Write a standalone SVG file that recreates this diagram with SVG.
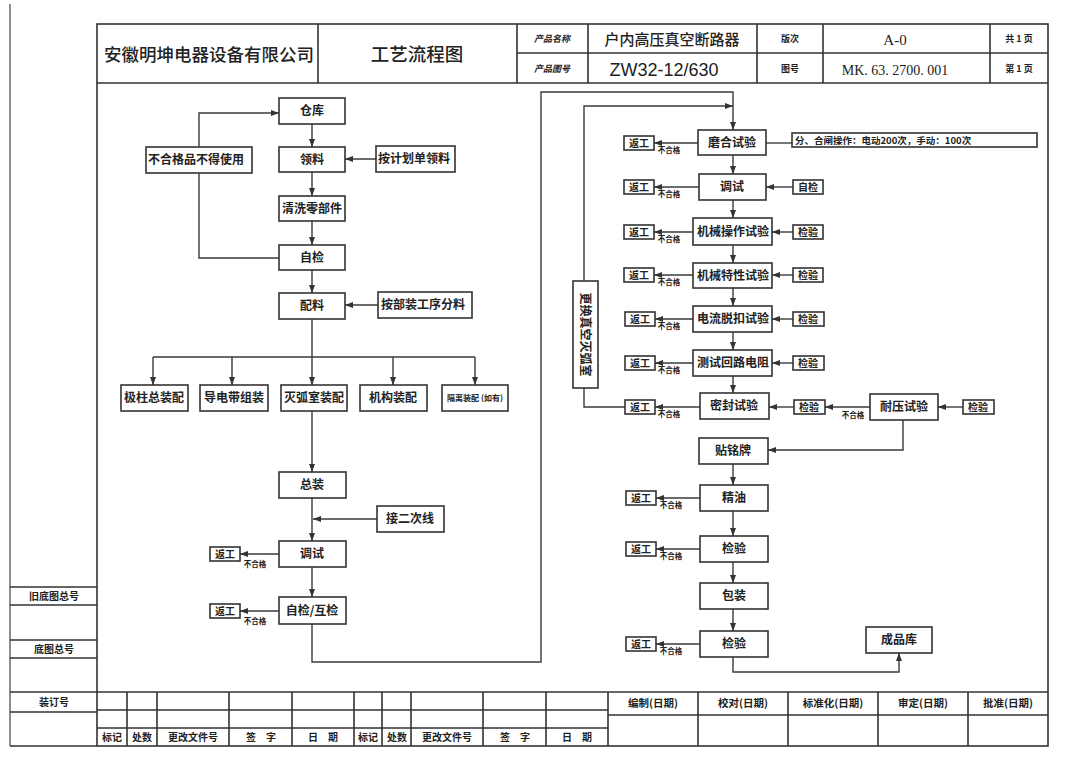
<svg xmlns="http://www.w3.org/2000/svg" width="1068" height="762" viewBox="0 0 1068 762">
<defs>
<marker id="ah" markerUnits="userSpaceOnUse" markerWidth="8" markerHeight="6" refX="8" refY="3" orient="auto">
<path d="M0,0 L8,3 L0,6 z" fill="#333"/>
</marker>
<style>
.frame{fill:none;stroke:#333;stroke-width:1.6}
.thin{fill:none;stroke:#444;stroke-width:1.2}
.box{fill:#fff;stroke:#333;stroke-width:1.6}
.ln{fill:none;stroke:#3a3a3a;stroke-width:1.4}
.ar{fill:none;stroke:#3a3a3a;stroke-width:1.4;marker-end:url(#ah)}
text{font-family:"Noto Sans CJK SC","Noto Sans CJK JP",sans-serif;fill:#222}
.t{font-size:12px;font-weight:700;text-anchor:middle}
.ts{font-size:10px;font-weight:700;text-anchor:middle}
.tn{font-size:7.5px;font-weight:700;text-anchor:middle}
.th{font-size:9px;font-weight:700;font-style:italic;text-anchor:middle}
.tb{font-size:10.5px;font-weight:700;text-anchor:middle}
</style>
</defs>
<rect width="1068" height="762" fill="#fff"/>

<g id="sheet-frame">
<path class="thin" d="M10,4 V746" stroke="#777"/>
<rect class="frame" x="97" y="24" width="951" height="722"/>
<path class="frame" d="M97,83 H1048 M318,24 V83 M517,24 V83 M588,24 V83 M757,24 V83 M823,24 V83 M990,24 V83 M517,53 H1048"/>
<text x="209" y="61" style="font-size:17.5px;font-weight:500;text-anchor:middle">安徽明坤电器设备有限公司</text>
<text x="417" y="61" style="font-size:18.5px;font-weight:500;text-anchor:middle">工艺流程图</text>
<text class="th" x="552" y="42">产品名称</text>
<text class="th" x="552" y="72">产品图号</text>
<text x="672" y="45" style="font-size:15px;font-weight:500;text-anchor:middle">户内高压真空断路器</text>
<text x="664" y="76" style="font-family:'Liberation Sans',Arial,sans-serif;font-size:18px;text-anchor:middle">ZW32-12/630</text>
<text class="th" x="790" y="42" style="font-style:normal">版次</text>
<text class="th" x="790" y="72" style="font-style:normal">图号</text>
<text x="895" y="45" style="font-family:'Liberation Serif',serif;font-size:15px;text-anchor:middle">A-0</text>
<text x="895" y="75" style="font-family:'Liberation Serif',serif;font-size:14px;text-anchor:middle">MK. 63. 2700. 001</text>
<text class="th" x="1019" y="42" style="font-style:normal">共 1 页</text>
<text class="th" x="1019" y="72" style="font-style:normal">第 1 页</text>
<path class="frame" d="M10,587 H97 M10,605 H97 M10,640 H97 M10,658 H97 M10,692 H97 M10,712 H97 M10,746 H97"/>
<text class="ts" x="54" y="600">旧底图总号</text>
<text class="ts" x="54" y="653">底图总号</text>
<text class="ts" x="54" y="706">装订号</text>
<path class="frame" d="M97,692 H1048 M97,710 H608 M97,728 H608 M608,715 H1048 M127,692 V746 M157,692 V746 M229,692 V746 M292,692 V746 M354,692 V746 M382,692 V746 M411,692 V746 M483,692 V746 M546,692 V746 M608,692 V746 M698,692 V746 M788,692 V746 M878,692 V746 M968,692 V746"/>
<text class="ts" x="112" y="741">标记</text>
<text class="ts" x="142" y="741">处数</text>
<text class="ts" x="193" y="741">更改文件号</text>
<text class="ts" x="261" y="741">签　字</text>
<text class="ts" x="323" y="741">日　期</text>
<text class="ts" x="368" y="741">标记</text>
<text class="ts" x="397" y="741">处数</text>
<text class="ts" x="447" y="741">更改文件号</text>
<text class="ts" x="515" y="741">签　字</text>
<text class="ts" x="577" y="741">日　期</text>
<text class="tb" x="653" y="707">编制(日期)</text>
<text class="tb" x="743" y="707">校对(日期)</text>
<text class="tb" x="833" y="707">标准化(日期)</text>
<text class="tb" x="923" y="707">审定(日期)</text>
<text class="tb" x="1008" y="707">批准(日期)</text>
</g>

<g id="connectors">
<path class="ar" d="M312,124 V147"/>
<path class="ar" d="M312,172 V196"/>
<path class="ar" d="M312,221 V245"/>
<path class="ar" d="M312,270 V293"/>
<path class="ln" d="M312,319 V357 M153,357 H475"/>
<path class="ar" d="M153,357 V385"/>
<path class="ar" d="M232,357 V385"/>
<path class="ar" d="M312,357 V385"/>
<path class="ar" d="M393,357 V385"/>
<path class="ar" d="M475,357 V385"/>
<path class="ar" d="M455,159 H345"/>
<path class="ar" d="M378,305 H345"/>
<path class="ln" d="M279,258 H199 V173"/>
<path class="ar" d="M199,147 V113 H279"/>
<path class="ar" d="M312,411 V472"/>
<path class="ar" d="M312,498 V541"/>
<path class="ar" d="M377,519 H313"/>
<path class="ar" d="M312,567 V597"/>
<path class="ar" d="M279,554 H240"/>
<path class="ar" d="M279,611 H240"/>
<path class="ar" d="M312,624 V662 H541 V92 H733 V130"/>
<path class="ar" d="M584,281 V106 H733"/>
<path class="ln" d="M766,143 H792"/>
<path class="ar" d="M698,143 H654"/>
<path class="ar" d="M733,155 V174"/>
<path class="ar" d="M793,187 H766"/>
<path class="ar" d="M699,187 H654"/>
<path class="ar" d="M733,200 V218"/>
<path class="ar" d="M793,232 H772"/>
<path class="ar" d="M693,232 H654"/>
<path class="ar" d="M733,245 V263"/>
<path class="ar" d="M793,275 H772"/>
<path class="ar" d="M693,275 H654"/>
<path class="ar" d="M733,288 V306"/>
<path class="ar" d="M793,319 H772"/>
<path class="ar" d="M693,319 H655"/>
<path class="ar" d="M733,332 V350"/>
<path class="ar" d="M793,363 H772"/>
<path class="ar" d="M693,363 H655"/>
<path class="ar" d="M733,376 V393"/>
<path class="ar" d="M794,407 H769"/>
<path class="ar" d="M700,407 H655"/>
<path class="ar" d="M870,407 H825"/>
<path class="ar" d="M963,407 H938"/>
<path class="ar" d="M903,420 V450 H768"/>
<path class="ln" d="M625,407 H584 V388"/>
<path class="ar" d="M733,464 V485"/>
<path class="ar" d="M700,498 H656"/>
<path class="ar" d="M733,511 V536"/>
<path class="ar" d="M700,549 H656"/>
<path class="ar" d="M733,562 V583"/>
<path class="ar" d="M733,609 V631"/>
<path class="ar" d="M700,644 H656"/>
<path class="ar" d="M733,657 V672 H899 V653"/>
</g>

<g id="ng-labels">
<text class="tn" x="255" y="567">不合格</text>
<text class="tn" x="255" y="624">不合格</text>
<text class="tn" x="669" y="153">不合格</text>
<text class="tn" x="669" y="197">不合格</text>
<text class="tn" x="669" y="242">不合格</text>
<text class="tn" x="669" y="285">不合格</text>
<text class="tn" x="669" y="329">不合格</text>
<text class="tn" x="669" y="373">不合格</text>
<text class="tn" x="669" y="417">不合格</text>
<text class="tn" x="853" y="418">不合格</text>
<text class="tn" x="671" y="508">不合格</text>
<text class="tn" x="671" y="559">不合格</text>
<text class="tn" x="671" y="654">不合格</text>
</g>

<g id="n-cangku"><rect class="box" x="279" y="98" width="66" height="26"/><text class="t" x="312" y="115">仓库</text></g>
<g id="n-lingliao"><rect class="box" x="279" y="147" width="66" height="25"/><text class="t" x="312" y="164">领料</text></g>
<g id="n-buhege"><rect class="box" x="146" y="147" width="106" height="26"/><text class="t" x="148" y="164" style="text-anchor:start">不合格品不得使用</text></g>
<g id="n-anjihua"><rect class="box" x="376" y="146" width="79" height="26"/><text class="t" x="378" y="163" style="text-anchor:start">按计划单领料</text></g>
<g id="n-qingxi"><rect class="box" x="279" y="196" width="66" height="25"/><text class="t" x="312" y="213">清洗零部件</text></g>
<g id="n-zijian"><rect class="box" x="279" y="245" width="66" height="25"/><text class="t" x="312" y="262">自检</text></g>
<g id="n-peiliao"><rect class="box" x="279" y="293" width="66" height="26"/><text class="t" x="312" y="310">配料</text></g>
<g id="n-anbuzhuang"><rect class="box" x="378" y="292" width="94" height="26"/><text class="t" x="381" y="309" style="text-anchor:start">按部装工序分料</text></g>
<g id="n-jizhu"><rect class="box" x="121" y="385" width="67" height="26"/><text class="t" x="154" y="402">极柱总装配</text></g>
<g id="n-daodian"><rect class="box" x="200" y="385" width="68" height="26"/><text class="t" x="234" y="402">导电带组装</text></g>
<g id="n-miehu"><rect class="box" x="281" y="385" width="66" height="26"/><text class="t" x="314" y="402">灭弧室装配</text></g>
<g id="n-jigou"><rect class="box" x="360" y="385" width="67" height="26"/><text class="t" x="393" y="402">机构装配</text></g>
<g id="n-geli"><rect class="box" x="442" y="385" width="66" height="26"/><text x="475" y="401" style="font-size:8px;font-weight:700;text-anchor:middle">隔离装配 (如有)</text></g>
<g id="n-zongzhuang"><rect class="box" x="279" y="472" width="67" height="26"/><text class="t" x="312" y="489">总装</text></g>
<g id="n-jieerci"><rect class="box" x="377" y="506" width="67" height="26"/><text class="t" x="410" y="523">接二次线</text></g>
<g id="n-tiaoshi1"><rect class="box" x="279" y="541" width="67" height="26"/><text class="t" x="312" y="558">调试</text></g>
<g id="n-fg-l1"><rect class="box" x="210" y="547" width="30" height="14"/><text class="ts" x="225" y="558">返工</text></g>
<g id="n-zihujian"><rect class="box" x="279" y="597" width="67" height="27"/><text class="t" x="312" y="615">自检/互检</text></g>
<g id="n-fg-l2"><rect class="box" x="210" y="604" width="30" height="14"/><text class="ts" x="225" y="615">返工</text></g>

<g id="n-genghuan"><rect class="box" x="573" y="281" width="25" height="107"/><text class="t" x="0" y="0" transform="translate(585.5,334.5) rotate(90)" dy="4.5">更换真空灭弧室</text></g>
<g id="n-mohe"><rect class="box" x="698" y="130" width="68" height="25"/><text class="t" x="732" y="147">磨合试验</text></g>
<g id="n-mohe-note"><rect class="box" x="792" y="133" width="245" height="14"/><text x="795" y="144" style="font-size:9.5px;font-weight:700">分、合闸操作：电动200次，手动：100次</text></g>
<g id="n-fg-r1"><rect class="box" x="624" y="136" width="30" height="14"/><text class="ts" x="639" y="147">返工</text></g>
<g id="n-tiaoshi2"><rect class="box" x="699" y="174" width="67" height="26"/><text class="t" x="732" y="191">调试</text></g>
<g id="n-zj-r"><rect class="box" x="793" y="180" width="30" height="14"/><text class="ts" x="808" y="191">自检</text></g>
<g id="n-fg-r2"><rect class="box" x="624" y="180" width="30" height="14"/><text class="ts" x="639" y="191">返工</text></g>
<g id="n-jxcz"><rect class="box" x="693" y="218" width="79" height="27"/><text class="t" x="733" y="236">机械操作试验</text></g>
<g id="n-jy1"><rect class="box" x="793" y="225" width="30" height="14"/><text class="ts" x="808" y="236">检验</text></g>
<g id="n-fg-r3"><rect class="box" x="624" y="225" width="30" height="14"/><text class="ts" x="639" y="236">返工</text></g>
<g id="n-jxtx"><rect class="box" x="693" y="263" width="79" height="25"/><text class="t" x="733" y="280">机械特性试验</text></g>
<g id="n-jy2"><rect class="box" x="793" y="268" width="30" height="14"/><text class="ts" x="808" y="279">检验</text></g>
<g id="n-fg-r4"><rect class="box" x="624" y="268" width="30" height="14"/><text class="ts" x="639" y="279">返工</text></g>
<g id="n-dltk"><rect class="box" x="693" y="306" width="79" height="26"/><text class="t" x="733" y="323">电流脱扣试验</text></g>
<g id="n-jy3"><rect class="box" x="793" y="312" width="31" height="14"/><text class="ts" x="808" y="323">检验</text></g>
<g id="n-fg-r5"><rect class="box" x="625" y="312" width="30" height="14"/><text class="ts" x="640" y="323">返工</text></g>
<g id="n-hldz"><rect class="box" x="693" y="350" width="79" height="26"/><text class="t" x="733" y="367">测试回路电阻</text></g>
<g id="n-jy4"><rect class="box" x="793" y="356" width="31" height="14"/><text class="ts" x="808" y="367">检验</text></g>
<g id="n-fg-r6"><rect class="box" x="625" y="356" width="30" height="14"/><text class="ts" x="640" y="367">返工</text></g>
<g id="n-mifeng"><rect class="box" x="700" y="393" width="69" height="26"/><text class="t" x="734" y="410">密封试验</text></g>
<g id="n-jy5"><rect class="box" x="794" y="400" width="31" height="14"/><text class="ts" x="809" y="411">检验</text></g>
<g id="n-fg-r7"><rect class="box" x="625" y="400" width="30" height="14"/><text class="ts" x="640" y="411">返工</text></g>
<g id="n-naiya"><rect class="box" x="870" y="394" width="68" height="26"/><text class="t" x="904" y="411">耐压试验</text></g>
<g id="n-jy6"><rect class="box" x="963" y="400" width="31" height="14"/><text class="ts" x="978" y="411">检验</text></g>
<g id="n-mingpai"><rect class="box" x="699" y="438" width="69" height="26"/><text class="t" x="733" y="455">贴铭牌</text></g>
<g id="n-jingyou"><rect class="box" x="700" y="485" width="68" height="26"/><text class="t" x="734" y="502">精油</text></g>
<g id="n-fg-r8"><rect class="box" x="626" y="491" width="30" height="14"/><text class="ts" x="641" y="502">返工</text></g>
<g id="n-jianyan1"><rect class="box" x="700" y="536" width="68" height="26"/><text class="t" x="734" y="553">检验</text></g>
<g id="n-fg-r9"><rect class="box" x="626" y="542" width="30" height="14"/><text class="ts" x="641" y="553">返工</text></g>
<g id="n-baozhuang"><rect class="box" x="700" y="583" width="68" height="26"/><text class="t" x="734" y="600">包装</text></g>
<g id="n-jianyan2"><rect class="box" x="700" y="631" width="68" height="26"/><text class="t" x="734" y="648">检验</text></g>
<g id="n-fg-r10"><rect class="box" x="626" y="637" width="30" height="14"/><text class="ts" x="641" y="648">返工</text></g>
<g id="n-chengpin"><rect class="box" x="866" y="627" width="66" height="26"/><text class="t" x="899" y="644">成品库</text></g>
</svg>
